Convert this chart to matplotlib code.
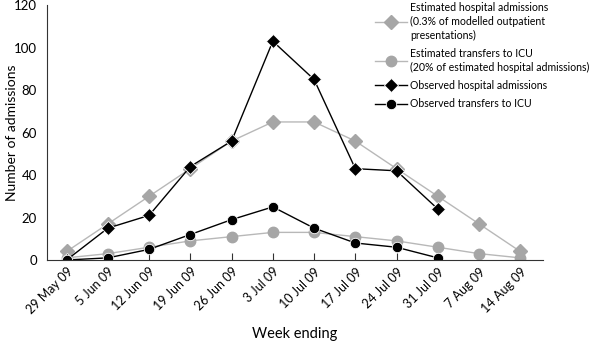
import matplotlib
matplotlib.use("Agg")
import matplotlib.pyplot as plt

# DATA

weeks = ["29 May 09", "5 Jun 09", "12 Jun 09", "19 Jun 09", "26 Jun 09", "3 Jul 09",
         "10 Jul 09", "17 Jul 09", "24 Jul 09", "31 Jul 09", "7 Aug 09", "14 Aug 09"]
est_admissions = [4, 17, 30, 43, 56, 65, 65, 56, 43, 30, 17, 4]
est_icu        = [1, 3, 6, 9, 11, 13, 13, 11, 9, 6, 3, 1]
obs_admissions = [0, 15, 21, 44, 56, 103, 85, 43, 42, 24]
obs_icu        = [0, 1, 5, 12, 19, 25, 15, 8, 6, 1]

labels = [
    "Estimated hospital admissions\n(0.3% of modelled outpatient\npresentations)",
    "Estimated transfers to ICU\n(20% of estimated hospital admissions)",
    "Observed hospital admissions",
    "Observed transfers to ICU",
]

# PLOT

plt.rcParams["font.family"] = ["Lato", "DejaVu Sans"]

fig = plt.figure(figsize=(6, 3.43), dpi=100)
ax = fig.add_axes([0.078, 0.242, 0.827, 0.743])

grey_mk = "#a6a6a6"
grey_ln = "#b8b8b8"

x_est = list(range(len(est_admissions)))
x_obs = list(range(len(obs_admissions)))

h1, = ax.plot(x_est, est_admissions, color=grey_ln, lw=1.0, marker="D", ms=7,
              mfc=grey_mk, mec=grey_mk, label=labels[0])
h2, = ax.plot(x_est, est_icu, color=grey_ln, lw=1.0, marker="o", ms=7.5,
              mfc=grey_mk, mec=grey_mk, label=labels[1])
h3, = ax.plot(x_obs, obs_admissions, color="black", lw=1.0, marker="D", ms=7,
              mfc="black", mec="white", mew=0.6, label=labels[2])
h4, = ax.plot(x_obs, obs_icu, color="black", lw=1.0, marker="o", ms=7.5,
              mfc="black", mec="white", mew=0.6, label=labels[3])

ax.set_xlim(-0.48, 11.55)
ax.set_ylim(0, 120)
ax.set_yticks(range(0, 121, 20))
ax.set_xticks(x_est)
ax.set_xticklabels(weeks, rotation=45, ha="right", rotation_mode="anchor", fontsize=9)
ax.tick_params(axis="x", direction="in", length=5, width=0.8, color="#333333", pad=4)
ax.tick_params(axis="y", length=0, labelsize=9.5, pad=7)

for side in ("top", "right"):
    ax.spines[side].set_visible(False)
for side in ("left", "bottom"):
    ax.spines[side].set_color("#333333")
    ax.spines[side].set_linewidth(0.8)

ax.set_ylabel("Number of admissions", fontsize=10)
ax.yaxis.set_label_coords(-0.058, 0.5)
ax.set_xlabel("Week ending", fontsize=10.5, labelpad=8)

leg = fig.legend(handles=[h1, h2, h3, h4], loc="upper left",
                 bbox_to_anchor=(375 / 600, 1 - 2 / 343),
                 frameon=False, fontsize=7.6, handlelength=3.0, labelspacing=0.7,
                 handletextpad=0.3, borderaxespad=0.0, borderpad=0.0)
for t in leg.get_texts():
    t.set_linespacing(1.3)

fig.savefig("out.png", dpi=100)
